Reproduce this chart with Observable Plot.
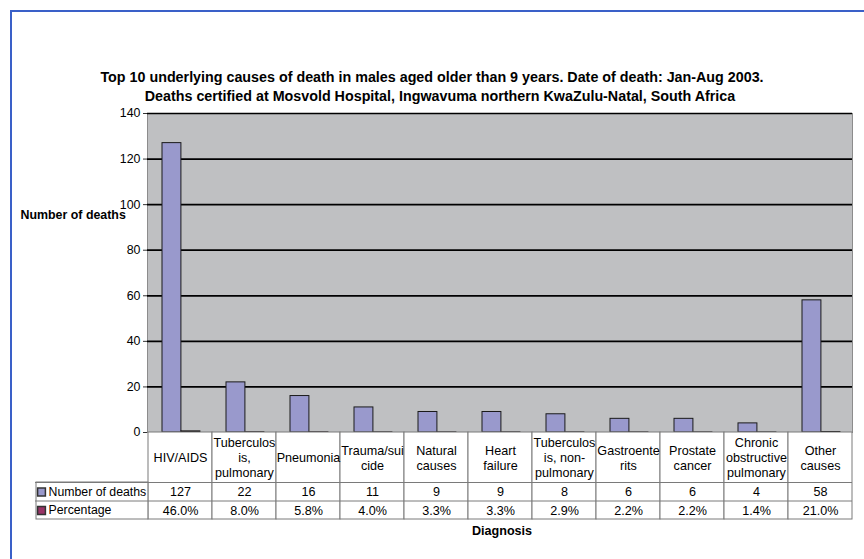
<!DOCTYPE html>
<html>
<head>
<meta charset="utf-8">
<script src="https://cdn.jsdelivr.net/npm/d3@7"></script>
<script src="https://cdn.jsdelivr.net/npm/@observablehq/plot@0.6"></script>
<style>
  body { margin: 0; background: #fff; }
  #wrap { position: relative; width: 864px; height: 559px; overflow: hidden; background: #fff; font-family: "Liberation Sans", Arial, sans-serif; }
  #chart { position: absolute; left: 0; top: 0; }
  #frame { position: absolute; left: 10px; top: 10px; width: 900px; height: 600px;
           border-left: 2px solid #3a60c8; border-top: 2px solid #3a60c8; }
</style>
</head>
<body>
<div id="wrap">
  <div id="chart"></div>
  <div id="frame"></div>
</div>
<script>
// ---- data ----
const categories = [
  "HIV/AIDS",
  "Tuberculos\nis,\npulmonary",
  "Pneumonia",
  "Trauma/sui\ncide",
  "Natural\ncauses",
  "Heart\nfailure",
  "Tuberculos\nis, non-\npulmonary",
  "Gastroente\nrits",
  "Prostate\ncancer",
  "Chronic\nobstructive\npulmonary",
  "Other\ncauses"
];
const deaths = [127, 22, 16, 11, 9, 9, 8, 6, 6, 4, 58];
const percentages = [46.0, 8.0, 5.8, 4.0, 3.3, 3.3, 2.9, 2.2, 2.2, 1.4, 21.0];
const yTicks = [0, 20, 40, 60, 80, 100, 120, 140];
const seriesNames = ["Number of deaths", "Percentage"];
const titleLines = [
  "Top 10 underlying causes of death in males aged older than 9 years. Date of death: Jan-Aug 2003.",
  "Deaths certified at Mosvold Hospital, Ingwavuma northern KwaZulu-Natal, South Africa"
];
const xLabel = "Diagnosis";
const yLabel = "Number of deaths";

// ---- table built from arrays ----
const rows = categories.map((c, i) => ({cat: c, deaths: deaths[i], pct: percentages[i], frac: percentages[i] / 100}));

const W = 864, H = 559;
const mL = 147, mR = 12, mT = 113, mB = 127;
const bw = (W - mL - mR) / categories.length;
const tableColor = "#7a7a7a";
const barFill = "#9999cc";
const pctFill = "#993366";
const fs = 12.6;

const plot = Plot.plot({
  width: W, height: H,
  marginLeft: mL, marginRight: mR, marginTop: mT, marginBottom: mB,
  style: { background: "transparent", fontFamily: "'Liberation Sans', Arial, sans-serif", fontSize: "12px", color: "#000" },
  x: { type: "band", domain: categories, padding: 0, axis: null },
  y: { domain: [0, 140] },
  marks: [
    Plot.frame({ fill: "#bfc0c2", stroke: "#8c8c8c" }),
    Plot.ruleY(yTicks.filter(d => d > 0), { stroke: "#000", strokeWidth: 1.7 }),
    Plot.axisY({ ticks: yTicks, tickSize: 4, tickPadding: 3, fontSize: 12.4, label: null, stroke: "#333" }),
    // bars
    Plot.barY(rows, { x: "cat", y: "deaths", insetLeft: 14, insetRight: bw - 33, fill: barFill, stroke: "#1a1a1a", strokeWidth: 1 }),
    Plot.barY(rows, { x: "cat", y: "frac", insetLeft: 33, insetRight: bw - 52, fill: pctFill, stroke: "#000", strokeWidth: 1 }),
    // data table cells
    Plot.barY(rows, { x: "cat", y1: 0, y2: 0, insetBottom: -87, fill: "#fff", stroke: tableColor, strokeWidth: 1 }),
    Plot.barY([rows[0]], { x: "cat", y1: 0, y2: 0, insetLeft: -112, insetRight: bw, insetTop: 50, insetBottom: -87, fill: "#fff", stroke: tableColor, strokeWidth: 1 }),
    Plot.ruleY([0], { dy: 50, insetLeft: -112, stroke: tableColor, strokeWidth: 1 }),
    Plot.ruleY([0], { dy: 68.5, insetLeft: -112, stroke: tableColor, strokeWidth: 1 }),
    Plot.text(rows, { x: "cat", text: "cat", frameAnchor: "bottom", dy: 25, lineAnchor: "middle", lineHeight: 1.2, fontSize: fs }),
    Plot.text(rows, { x: "cat", text: d => String(d.deaths), frameAnchor: "bottom", dy: 59.5, lineAnchor: "middle", fontSize: fs }),
    Plot.text(rows, { x: "cat", text: d => d.pct.toFixed(1) + "%", frameAnchor: "bottom", dy: 78, lineAnchor: "middle", fontSize: fs }),
    // legend keys in table
    Plot.dot([seriesNames[0]], { frameAnchor: "bottom-left", dx: -106, dy: 59.5, symbol: "square", r: 4.4, fill: barFill, stroke: "#333" }),
    Plot.dot([seriesNames[1]], { frameAnchor: "bottom-left", dx: -106, dy: 78, symbol: "square", r: 4.4, fill: pctFill, stroke: "#333" }),
    Plot.text([seriesNames[0]], { text: d => d, frameAnchor: "bottom-left", dx: -99, dy: 59.5, textAnchor: "start", lineAnchor: "middle", fontSize: 12.3 }),
    Plot.text([seriesNames[1]], { text: d => d, frameAnchor: "bottom-left", dx: -99, dy: 78, textAnchor: "start", lineAnchor: "middle", fontSize: 12.3 }),
    // axis titles
    Plot.text([yLabel], { text: d => d, frameAnchor: "top-left", dx: -127, dy: 102, textAnchor: "start", lineAnchor: "middle", fontWeight: "bold", fontSize: 12.4 }),
    Plot.text([xLabel], { text: d => d, frameAnchor: "bottom", dx: 2, dy: 98, lineAnchor: "middle", fontWeight: "bold", fontSize: 12.6 }),
    // title
    Plot.text([titleLines[0]], { text: d => d, frameAnchor: "top", dx: -68, dy: -36, lineAnchor: "middle", fontWeight: "bold", fontSize: 14.3 }),
    Plot.text([titleLines[1]], { text: d => d, frameAnchor: "top", dx: -60, dy: -17, lineAnchor: "middle", fontWeight: "bold", fontSize: 14.3 })
  ]
});
document.getElementById("chart").appendChild(plot);
</script>
</body>
</html>
